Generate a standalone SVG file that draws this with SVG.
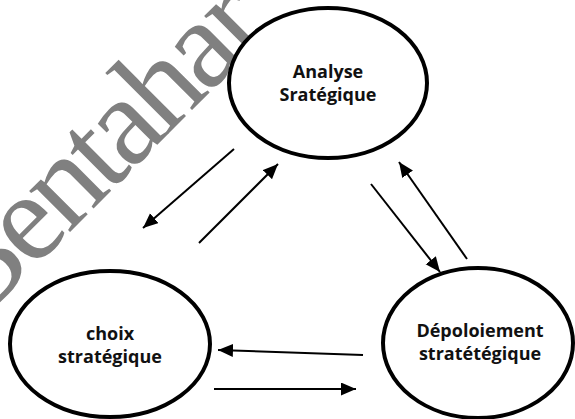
<svg xmlns="http://www.w3.org/2000/svg" width="575" height="419" viewBox="0 0 575 419">
  <style>
    .node { fill: #ffffff; stroke: #000000; stroke-width: 4; }
    .label { font-family: "Open Sans", "Liberation Sans", sans-serif; font-weight: bold; font-size: 18px; fill: #111111; text-anchor: middle; }
    .link { stroke: #000000; stroke-width: 2; fill: none; marker-end: url(#head); }
    .mark { font-family: "Liberation Serif", "DejaVu Serif", serif; font-size: 126px; letter-spacing: -5px; fill: #808080; }
  </style>
  <defs>
    <marker id="head" markerUnits="userSpaceOnUse" markerWidth="16" markerHeight="14" refX="15" refY="6.5" orient="auto">
      <path d="M0,0 L15,6.5 L0,13 z" fill="#000000"/>
    </marker>
  </defs>
  <rect width="575" height="419" fill="#ffffff"/>

  <!-- background watermark -->
  <text class="mark" x="-24" y="326" transform="rotate(-45 -24 326)">Bentahar</text>

  <!-- connectors -->
  <g id="connectors">
    <line class="link" x1="234" y1="149" x2="143" y2="228"/>
    <line class="link" x1="199" y1="243" x2="278" y2="164"/>
    <line class="link" x1="371" y1="184" x2="440" y2="272"/>
    <line class="link" x1="467" y1="259" x2="399" y2="162"/>
    <line class="link" x1="363" y1="355" x2="218" y2="350"/>
    <line class="link" x1="214" y1="389" x2="356" y2="389"/>
  </g>

  <!-- nodes -->
  <g id="analyse">
    <ellipse class="node" cx="328" cy="83" rx="99" ry="75"/>
    <text class="label" x="328" y="78">Analyse</text>
    <text class="label" x="328" y="101">Sratégique</text>
  </g>
  <g id="choix">
    <ellipse class="node" cx="110" cy="344" rx="100" ry="73"/>
    <text class="label" x="110" y="340">choix</text>
    <text class="label" x="110" y="363">stratégique</text>
  </g>
  <g id="deploiement">
    <ellipse class="node" cx="478" cy="343" rx="95" ry="75"/>
    <text class="label" x="480" y="337">Dépoloiement</text>
    <text class="label" x="480" y="360">stratétégique</text>
  </g>
</svg>
